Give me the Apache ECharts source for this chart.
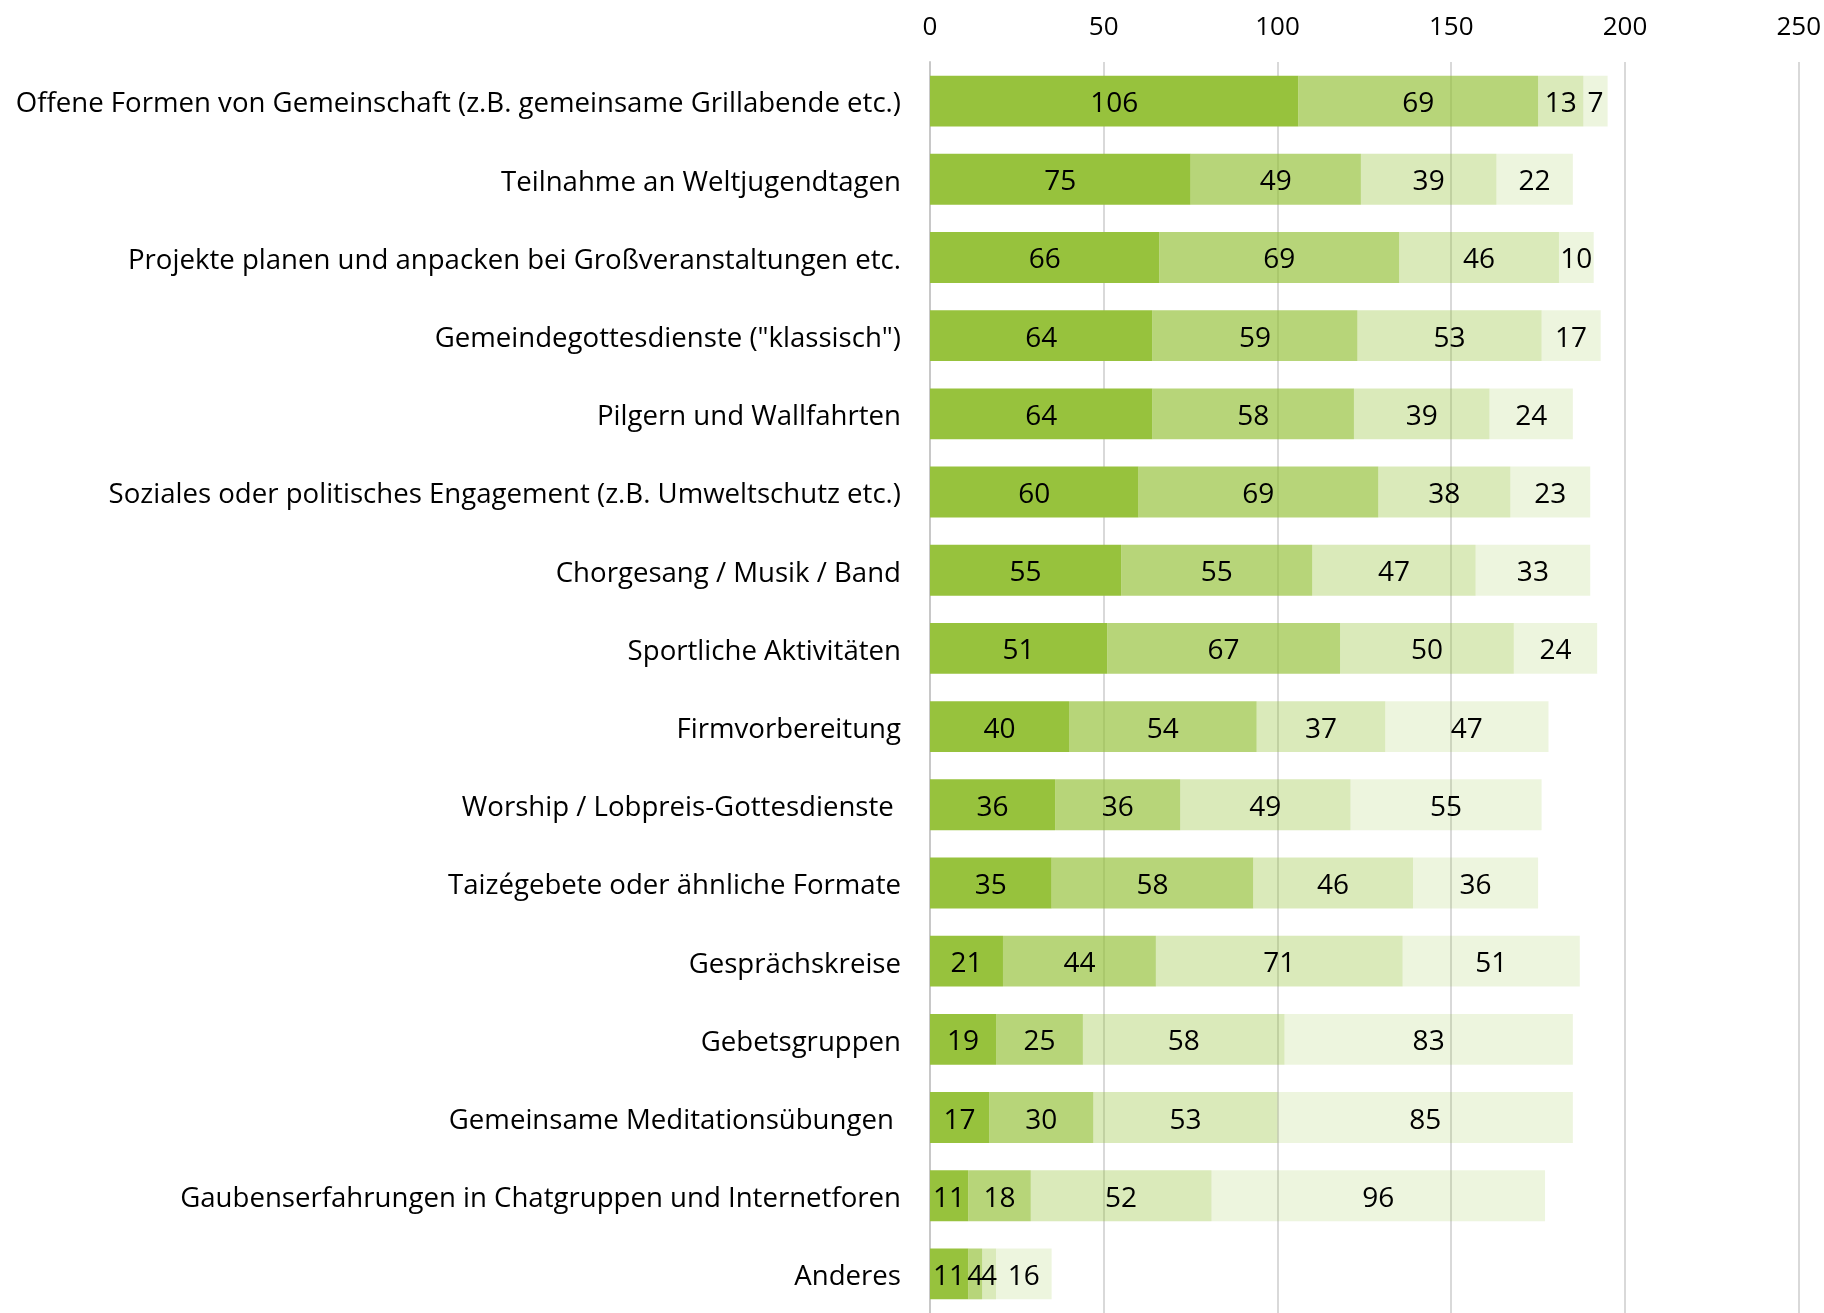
<!DOCTYPE html>
<html>
<head>
<meta charset="utf-8">
<script src="https://cdn.jsdelivr.net/npm/echarts@6/dist/echarts.min.js"></script>
<style>
  html, body { margin: 0; padding: 0; background: #ffffff; }
  #chart { width: 1824px; height: 1313px; }
</style>
</head>
<body>
<div id="chart"></div>
<script>
// Activities, top to bottom
const categories = [
  'Offene Formen von Gemeinschaft (z.B. gemeinsame Grillabende etc.)',
  'Teilnahme an Weltjugendtagen',
  'Projekte planen und anpacken bei Großveranstaltungen etc.',
  'Gemeindegottesdienste ("klassisch")',
  'Pilgern und Wallfahrten',
  'Soziales oder politisches Engagement (z.B. Umweltschutz etc.)',
  'Chorgesang / Musik / Band',
  'Sportliche Aktivitäten',
  'Firmvorbereitung',
  'Worship / Lobpreis-Gottesdienste ',
  'Taizégebete oder ähnliche Formate',
  'Gesprächskreise',
  'Gebetsgruppen',
  'Gemeinsame Meditationsübungen ',
  'Gaubenserfahrungen in Chatgruppen und Internetforen',
  'Anderes'
];

// Four answer levels, stacked left to right
const level1 = [106, 75, 66, 64, 64, 60, 55, 51, 40, 36, 35, 21, 19, 17, 11, 11];
const level2 = [69, 49, 69, 59, 58, 69, 55, 67, 54, 36, 58, 44, 25, 30, 18, 4];
const level3 = [13, 39, 46, 53, 39, 38, 47, 50, 37, 49, 46, 71, 58, 53, 52, 4];
const level4 = [7, 22, 10, 17, 24, 23, 33, 24, 47, 55, 36, 51, 83, 85, 96, 16];

const axisTicks = [0, 50, 100, 150, 200, 250];

const FONT = '"Open Sans", "Noto Sans", sans-serif';
const levels = [level1, level2, level3, level4];
const colors = [
  'rgb(151,194,61)',
  'rgba(146,192,52,0.66)',
  'rgba(146,192,52,0.34)',
  'rgba(146,192,52,0.16)'
];

const chart = echarts.init(document.getElementById('chart'), null, { renderer: 'canvas' });

chart.setOption({
  animation: false,
  backgroundColor: '#ffffff',
  grid: { left: 930, right: 24, top: 62, bottom: -4, containLabel: false },
  xAxis: {
    type: 'value',
    position: 'top',
    min: axisTicks[0],
    max: axisTicks[axisTicks.length - 1],
    interval: axisTicks[1] - axisTicks[0],
    axisLine: { show: false },
    axisTick: { show: false },
    axisLabel: { fontFamily: FONT, fontSize: 26, color: '#000', margin: 21 },
    splitLine: { show: true, lineStyle: { color: '#d9d9d9', width: 2 } }
  },
  yAxis: {
    type: 'category',
    inverse: true,
    data: categories,
    axisLine: { show: true, lineStyle: { color: '#c8c8c8', width: 2 } },
    axisTick: { show: false },
    axisLabel: {
      margin: 29,
      formatter: (v) => '{c|' + v + '}',
      rich: {
        c: {
          fontFamily: FONT,
          fontSize: 27.6,
          color: '#000',
          padding: [7, 0, 0, 0]
        }
      }
    }
  },
  series: levels.map((vals, i) => ({
    type: 'bar',
    stack: 'total',
    data: vals,
    barCategoryGap: '35%',
    itemStyle: { color: colors[i] },
    label: {
      show: true,
      position: 'inside',
      offset: [0, 3],
      fontFamily: FONT,
      fontSize: 28,
      color: '#000'
    }
  }))
});
</script>
</body>
</html>
